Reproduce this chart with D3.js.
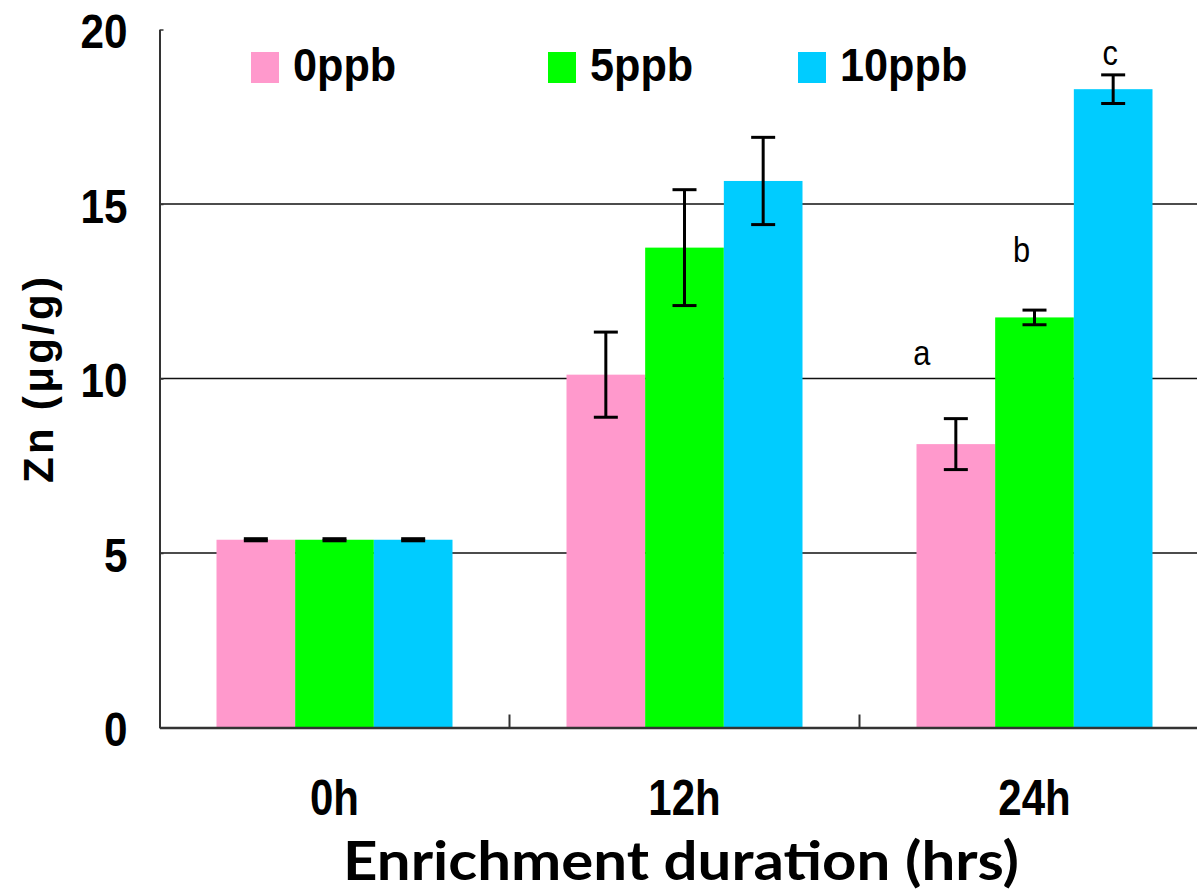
<!DOCTYPE html>
<html>
<head>
<meta charset="utf-8">
<script src="https://cdn.jsdelivr.net/npm/d3@7"></script>
<style>
  body { margin: 0; background: #fff; }
  svg { display: block; }
</style>
</head>
<body>
<div id="chart"></div>
<script>
//************* data ***************/
var categories = ["0h", "12h", "24h"];
var seriesNames = ["0ppb", "5ppb", "10ppb"];
var values0ppb  = [5.38, 10.11, 8.12];
var values5ppb  = [5.38, 13.75, 11.75];
var values10ppb = [5.38, 15.66, 18.29];
var err0ppb  = [0.03, 1.22, 0.73];
var err5ppb  = [0.03, 1.66, 0.21];
var err10ppb = [0.03, 1.25, 0.41];
var yTicks = [0, 5, 10, 15, 20];
var sigLetters = ["a", "b", "c"];   // on the 24h bars

var colors = ["#ff99cc", "#00ff00", "#00ccff"];

//************* set dimensions ***************/
var W = 1197, H = 890;
var plotLeft = 159.5, plotTop = 29.5, plotBottom = 727.5;

var svg = d3.select("#chart")
  .append("svg")
    .attr("width", W)
    .attr("height", H);

//************* scales ***************/
var x0 = d3.scaleBand()
    .domain(categories)
    .range([plotLeft, plotLeft + 3 * 350])
    .padding(0);

var x1 = d3.scaleBand()
    .domain(seriesNames)
    .range([57, 293])
    .padding(0);

var y = d3.scaleLinear()
    .domain([0, 20])
    .range([plotBottom, plotTop]);

var allValues = [values0ppb, values5ppb, values10ppb];
var allErrs = [err0ppb, err5ppb, err10ppb];

var rows = [];
categories.forEach(function(c, i) {
  seriesNames.forEach(function(s, j) {
    rows.push({cat: c, series: s, value: allValues[j][i], err: allErrs[j][i], color: colors[j]});
  });
});

//************* gridlines ***************/
svg.append("g")
  .selectAll("line")
  .data(yTicks.filter(function(d) { return d > 0 && d < 20; }))
  .enter()
  .append("line")
    .attr("x1", plotLeft)
    .attr("x2", W)
    .attr("y1", function(d) { return y(d); })
    .attr("y2", function(d) { return y(d); })
    .attr("stroke", "#111")
    .attr("stroke-width", 1.6);

//************* bars ***************/
svg.append("g")
  .selectAll("rect")
  .data(rows)
  .enter()
  .append("rect")
    .attr("x", function(d) { return x0(d.cat) + x1(d.series); })
    .attr("width", x1.bandwidth())
    .attr("y", function(d) { return y(d.value); })
    .attr("height", function(d) { return y(0) - y(d.value); })
    .attr("fill", function(d) { return d.color; });

//************* error bars ***************/
var eb = svg.append("g")
  .selectAll("g")
  .data(rows)
  .enter()
  .append("g")
    .attr("transform", function(d) { return "translate(" + (x0(d.cat) + x1(d.series) + x1.bandwidth() / 2) + ",0)"; })
    .attr("stroke", "#000")
    .attr("stroke-width", 3);

eb.append("line")
  .attr("y1", function(d) { return y(d.value + d.err); })
  .attr("y2", function(d) { return y(d.value - d.err); });
eb.append("line")
  .attr("x1", -12).attr("x2", 12)
  .attr("y1", function(d) { return y(d.value + d.err); })
  .attr("y2", function(d) { return y(d.value + d.err); });
eb.append("line")
  .attr("x1", -12).attr("x2", 12)
  .attr("y1", function(d) { return y(d.value - d.err); })
  .attr("y2", function(d) { return y(d.value - d.err); });

//************* y axis ***************/
var yAxis = svg.append("g")
    .attr("transform", "translate(" + plotLeft + ",0)")
    .call(d3.axisLeft(y).tickValues(yTicks).tickSizeInner(-4).tickSizeOuter(0).tickPadding(32));

yAxis.select(".domain").attr("stroke", "#333").attr("stroke-width", 2);
yAxis.selectAll(".tick line").attr("stroke", "#333").attr("stroke-width", 1.5);
yAxis.selectAll(".tick text")
    .attr("font-family", "'Liberation Sans', Arial, sans-serif")
    .attr("font-weight", "bold")
    .attr("font-size", 48)
    .attr("fill", "#000")
    .attr("x", -32 / 0.88)
    .attr("dy", "0.38em")
    .attr("transform", "scale(0.88,1)");

//************* x axis ***************/
var xAxis = svg.append("g")
    .attr("transform", "translate(0," + plotBottom + ")")
    .call(d3.axisBottom(x0).tickSize(0).tickSizeOuter(0));

xAxis.select(".domain").attr("stroke", "#333").attr("stroke-width", 2.5);
xAxis.selectAll(".tick text")
    .attr("font-family", "'Liberation Sans', Arial, sans-serif")
    .attr("font-weight", "bold")
    .attr("font-size", 50)
    .attr("fill", "#000")
    .attr("y", 87.5)
    .attr("dy", 0)
    .attr("transform", "scale(0.84,1)");

// boundary ticks between the groups
svg.append("g")
  .selectAll("line")
  .data(categories.slice(1))
  .enter()
  .append("line")
    .attr("x1", function(d) { return x0(d); })
    .attr("x2", function(d) { return x0(d); })
    .attr("y1", plotBottom)
    .attr("y2", plotBottom - 13)
    .attr("stroke", "#333")
    .attr("stroke-width", 2);

//************* significance letters ***************/
var letterPos = [{dx: -34, v: 10.4}, {dx: -13, v: 13.35}, {dx: -3, v: 18.98}];
svg.append("g")
  .selectAll("text")
  .data(sigLetters)
  .enter()
  .append("text")
    .attr("transform", function(d, j) {
      var cx = x0("24h") + x1(seriesNames[j]) + x1.bandwidth() / 2 + letterPos[j].dx;
      return "translate(" + cx + "," + y(letterPos[j].v) + ") scale(0.88,1)";
    })
    .attr("text-anchor", "middle")
    .attr("font-family", "'Liberation Sans', Arial, sans-serif")
    .attr("font-size", 35)
    .attr("fill", "#000")
    .text(function(d) { return d; });

//************* legend ***************/
var legendX = [251, 548, 798];
var legend = svg.append("g")
  .selectAll("g")
  .data(seriesNames)
  .enter()
  .append("g")
    .attr("transform", function(d, i) { return "translate(" + legendX[i] + ",0)"; });

legend.append("rect")
    .attr("x", 0)
    .attr("y", 52)
    .attr("width", 28)
    .attr("height", 31)
    .attr("fill", function(d, i) { return colors[i]; });

legend.append("text")
    .attr("transform", "translate(42,81) scale(0.92,1)")
    .attr("font-family", "'Liberation Sans', Arial, sans-serif")
    .attr("font-weight", "bold")
    .attr("font-size", 47)
    .attr("fill", "#000")
    .text(function(d) { return d; });

//************* axis titles ***************/
svg.append("text")
    .attr("transform", "translate(53,380) rotate(-90)")
    .attr("text-anchor", "middle")
    .attr("font-family", "'Liberation Sans', Arial, sans-serif")
    .attr("font-weight", "bold")
    .attr("font-size", 42)
    .attr("textLength", 206)
    .attr("lengthAdjust", "spacing")
    .attr("fill", "#000")
    .text("Zn (μg/g)");

svg.append("text")
    .attr("x", 681)
    .attr("y", 880)
    .attr("text-anchor", "middle")
    .attr("font-family", "Lato, 'Open Sans', sans-serif")
    .attr("font-weight", "bold")
    .attr("font-size", 53)
    .attr("textLength", 676)
    .attr("lengthAdjust", "spacingAndGlyphs")
    .attr("fill", "#000")
    .text("Enrichment duration (hrs)");
</script>
</body>
</html>
